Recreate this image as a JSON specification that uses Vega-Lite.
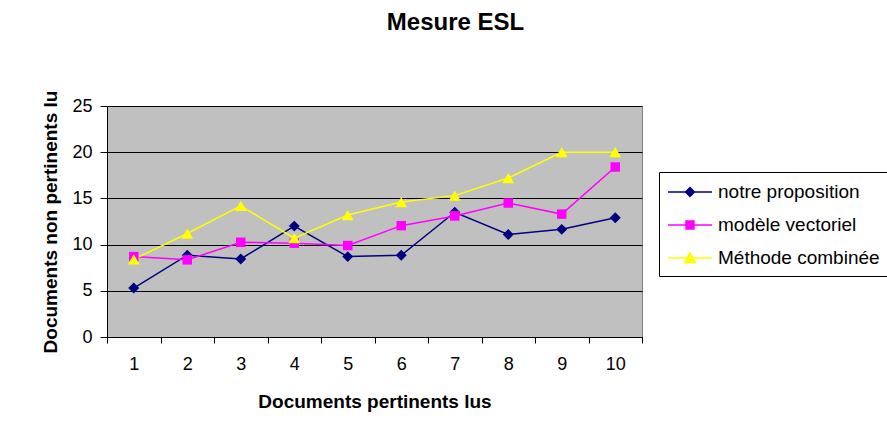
{
  "$schema": "https://vega.github.io/schema/vega-lite/v6.json",
  "width": 535,
  "height": 231,
  "autosize": "none",
  "padding": {"left": 107, "top": 106, "right": 245, "bottom": 98},
  "background": "white",
  "title": {
    "text": "Mesure ESL",
    "font": "Liberation Sans",
    "fontSize": 24,
    "fontWeight": "bold",
    "color": "black",
    "anchor": "middle",
    "dx": 81,
    "offset": 55
  },
  "data": {
    "values": [
      {"doc": 1, "serie": "notre proposition", "val": 5.3},
      {"doc": 2, "serie": "notre proposition", "val": 8.85},
      {"doc": 3, "serie": "notre proposition", "val": 8.45},
      {"doc": 4, "serie": "notre proposition", "val": 12.0},
      {"doc": 5, "serie": "notre proposition", "val": 8.7},
      {"doc": 6, "serie": "notre proposition", "val": 8.85},
      {"doc": 7, "serie": "notre proposition", "val": 13.5},
      {"doc": 8, "serie": "notre proposition", "val": 11.1},
      {"doc": 9, "serie": "notre proposition", "val": 11.65},
      {"doc": 10, "serie": "notre proposition", "val": 12.9},
      {"doc": 1, "serie": "modèle vectoriel", "val": 8.7},
      {"doc": 2, "serie": "modèle vectoriel", "val": 8.35},
      {"doc": 3, "serie": "modèle vectoriel", "val": 10.25},
      {"doc": 4, "serie": "modèle vectoriel", "val": 10.15},
      {"doc": 5, "serie": "modèle vectoriel", "val": 9.9},
      {"doc": 6, "serie": "modèle vectoriel", "val": 12.05},
      {"doc": 7, "serie": "modèle vectoriel", "val": 13.1},
      {"doc": 8, "serie": "modèle vectoriel", "val": 14.5},
      {"doc": 9, "serie": "modèle vectoriel", "val": 13.3},
      {"doc": 10, "serie": "modèle vectoriel", "val": 18.4},
      {"doc": 1, "serie": "Méthode combinée", "val": 8.4},
      {"doc": 2, "serie": "Méthode combinée", "val": 11.2},
      {"doc": 3, "serie": "Méthode combinée", "val": 14.2},
      {"doc": 4, "serie": "Méthode combinée", "val": 10.7},
      {"doc": 5, "serie": "Méthode combinée", "val": 13.2},
      {"doc": 6, "serie": "Méthode combinée", "val": 14.6},
      {"doc": 7, "serie": "Méthode combinée", "val": 15.3},
      {"doc": 8, "serie": "Méthode combinée", "val": 17.2},
      {"doc": 9, "serie": "Méthode combinée", "val": 20.0},
      {"doc": 10, "serie": "Méthode combinée", "val": 20.0}
    ]
  },
  "encoding": {
    "x": {
      "field": "doc",
      "type": "ordinal",
      "bandPosition": 0.5,
      "scale": {"type": "band", "paddingInner": 0, "paddingOuter": 0},
      "axis": {
        "title": "Documents pertinents lus",
        "labelAngle": 0,
        "tickBand": "extent",
        "tickSize": 6,
        "labelPadding": 12,
        "labelFontSize": 18,
        "titleFontSize": 19,
        "titlePadding": 19,
        "grid": false
      }
    },
    "y": {
      "field": "val",
      "type": "quantitative",
      "scale": {"domain": [0, 25]},
      "axis": {
        "title": "Documents non pertinents lu",
        "values": [0, 5, 10, 15, 20, 25],
        "grid": true,
        "gridColor": "black",
        "gridOpacity": 1,
        "gridWidth": 1,
        "tickSize": 7,
        "labelPadding": 8,
        "labelFontSize": 18,
        "titleFontSize": 19,
        "titlePadding": 11
      }
    },
    "color": {
      "field": "serie",
      "type": "nominal",
      "scale": {
        "domain": ["notre proposition", "modèle vectoriel", "Méthode combinée"],
        "range": ["#000080", "#FF00FF", "#FFFF00"]
      },
      "legend": {
        "orient": "none",
        "legendX": 552,
        "legendY": 66,
        "title": null,
        "strokeColor": "black",
        "fillColor": "white",
        "padding": 8,
        "rowPadding": 11,
        "labelFontSize": 19,
        "labelFont": "Liberation Sans",
        "labelColor": "black",
        "labelLimit": 0,
        "labelOffset": 16,
        "symbolSize": 484,
        "symbolOffset": 11,
        "encode": {
          "symbols": {
            "update": {
              "shape": {"signal": "datum.value === 'notre proposition' ? 'M-2,0H2M0,-0.4L0.4,0L0,0.4L-0.4,0Z' : datum.value === 'modèle vectoriel' ? 'M-2,0H2M-0.36,-0.36H0.36V0.36H-0.36Z' : 'M-2,0H2M0,-0.48L0.48,0.4L-0.48,0.4Z'"},
              "fill": {"signal": "scale('color', datum.value)"},
              "stroke": {"signal": "scale('color', datum.value)"},
              "strokeWidth": {"value": 1.5},
              "opacity": {"value": 1},
              "fillOpacity": {"value": 1}
            }
          }
        }
      }
    }
  },
  "layer": [
    {"mark": {"type": "line", "strokeWidth": 1.5}},
    {
      "transform": [{"filter": "datum.serie === 'notre proposition'"}],
      "mark": {"type": "point", "filled": true, "opacity": 1, "size": 120, "shape": "diamond"}
    },
    {
      "transform": [{"filter": "datum.serie === 'modèle vectoriel'"}],
      "mark": {"type": "point", "filled": true, "opacity": 1, "size": 90, "shape": "square"}
    },
    {
      "transform": [{"filter": "datum.serie === 'Méthode combinée'"}],
      "mark": {"type": "point", "filled": true, "opacity": 1, "size": 140, "shape": "triangle-up"}
    }
  ],
  "config": {
    "font": "Liberation Sans",
    "view": {"fill": "#C0C0C0", "stroke": "#808080"},
    "axis": {
      "domainColor": "black",
      "tickColor": "black",
      "labelColor": "black",
      "titleColor": "black",
      "labelFont": "Liberation Sans",
      "titleFont": "Liberation Sans",
      "titleFontWeight": "bold"
    }
  }
}
